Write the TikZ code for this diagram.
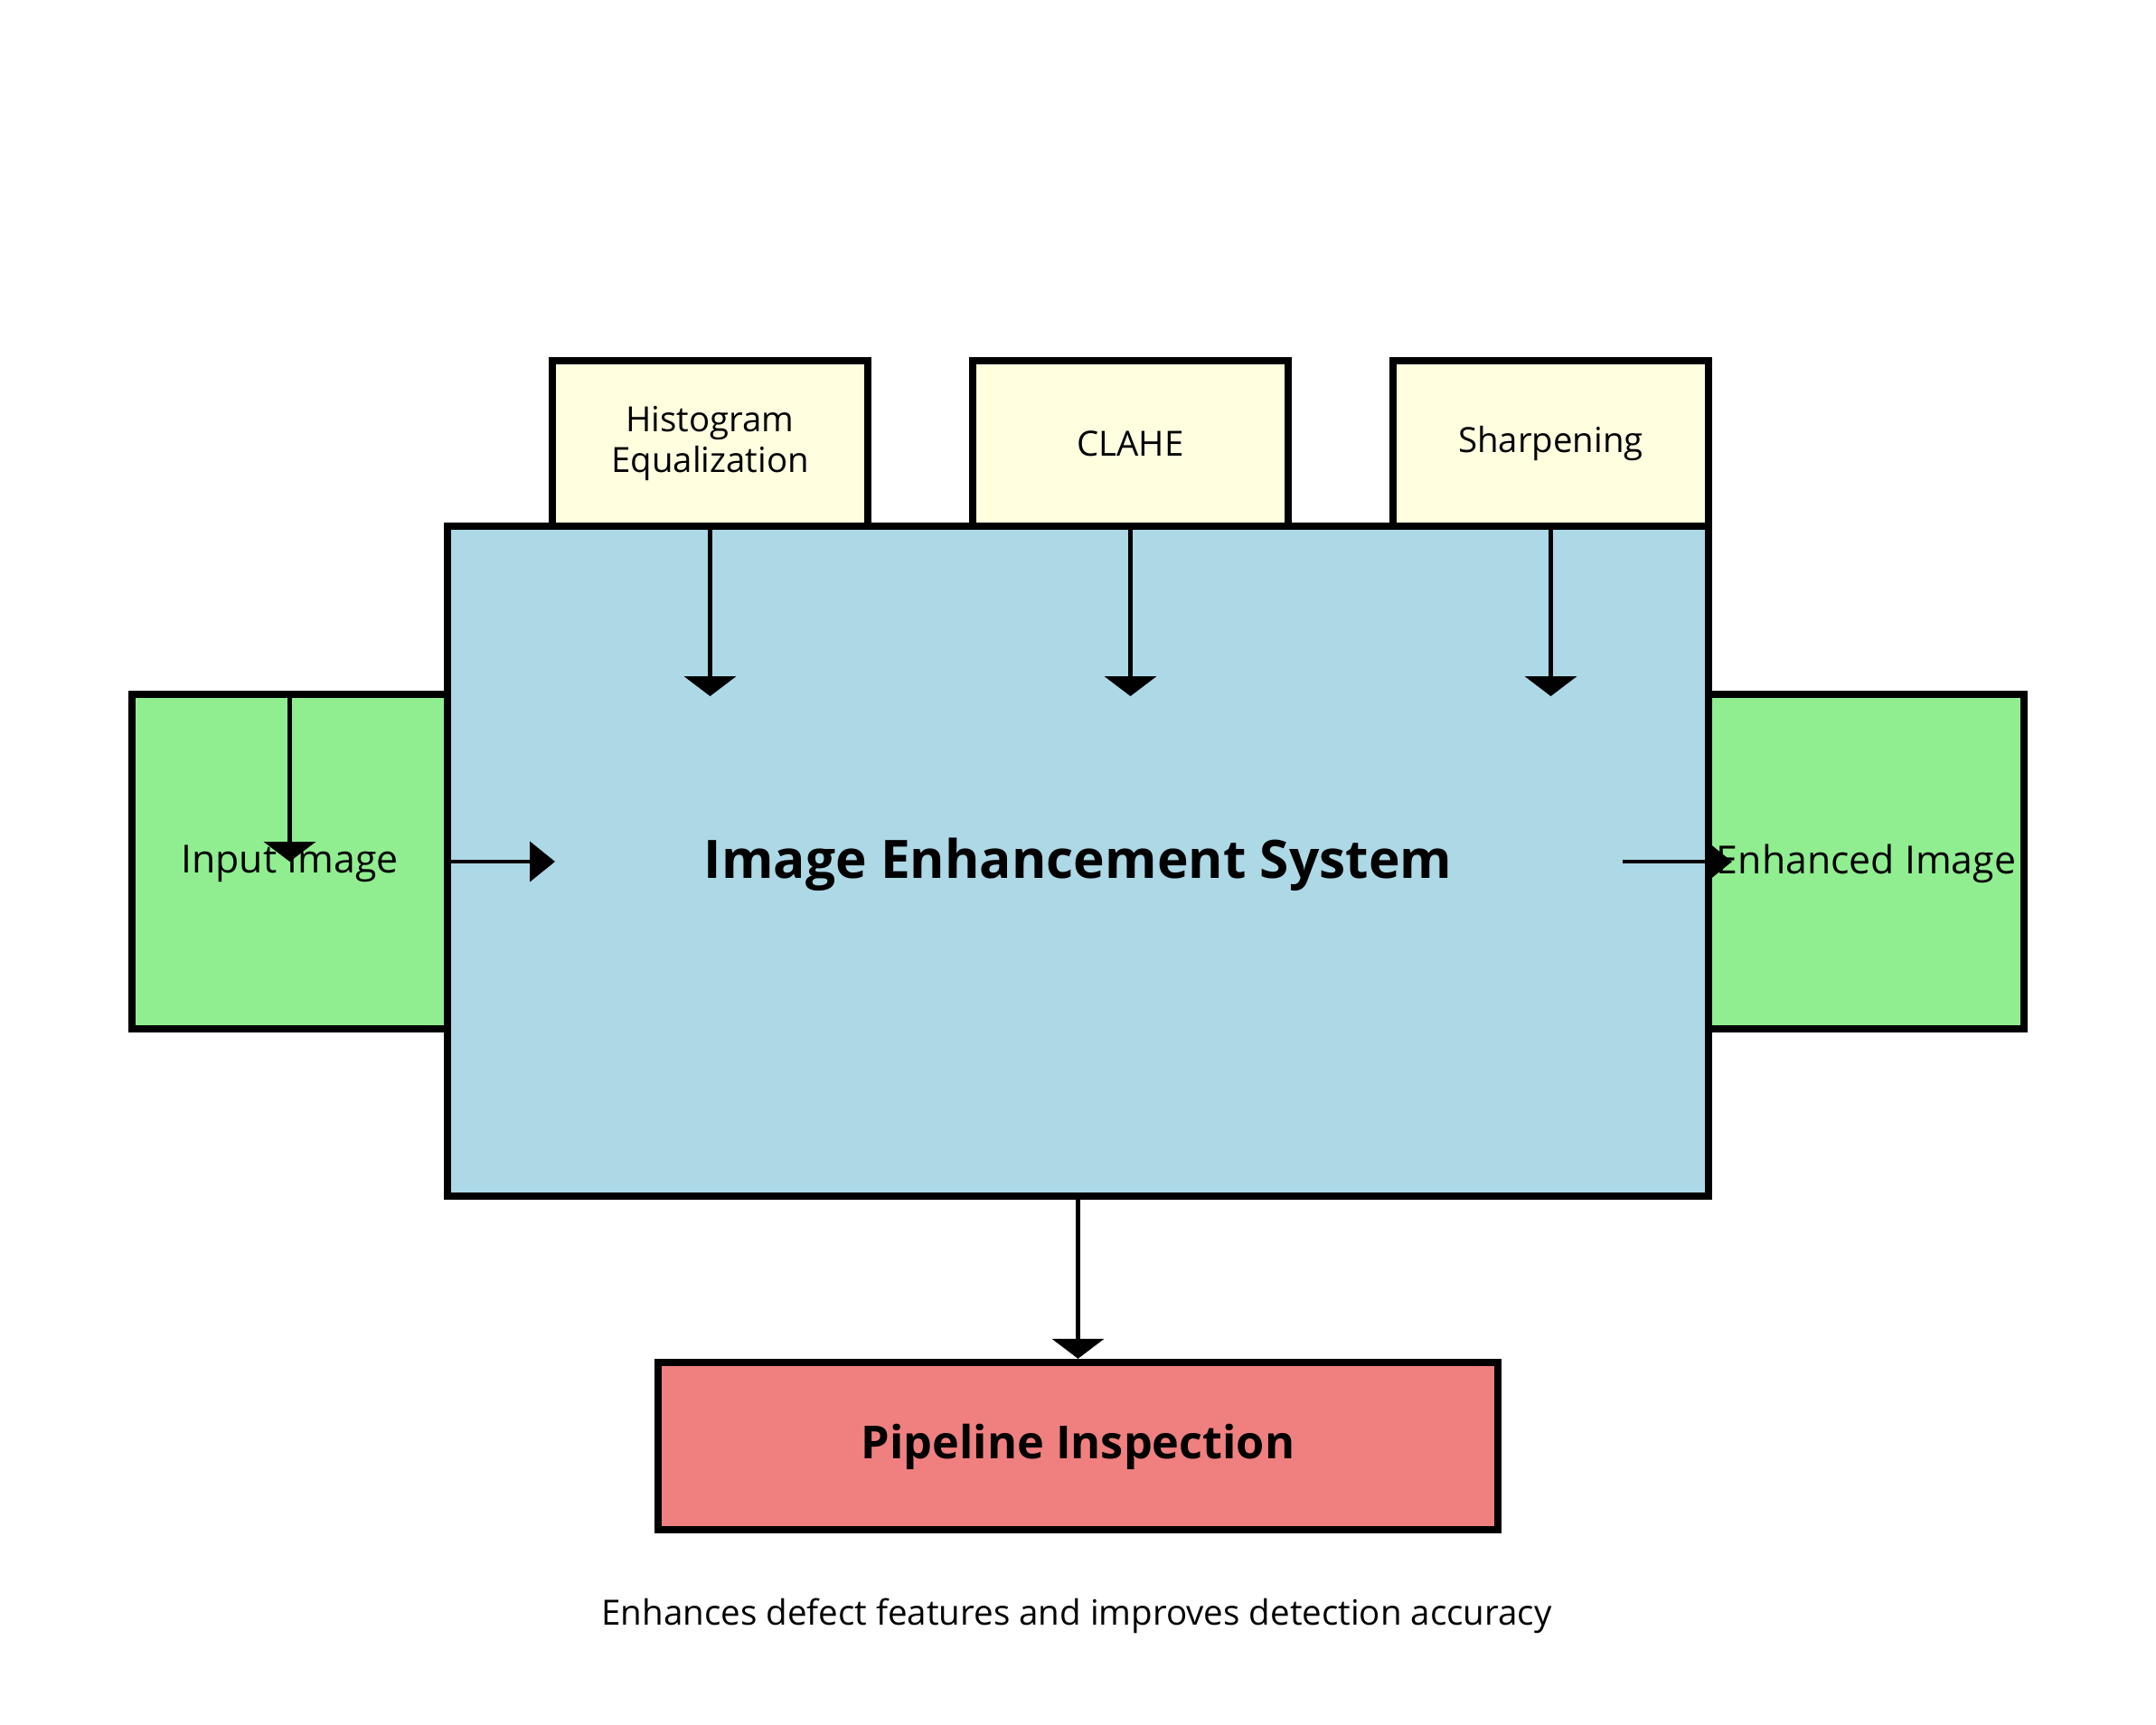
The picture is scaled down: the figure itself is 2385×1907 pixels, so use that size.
\documentclass[tikz,border=0pt]{standalone}
\usepackage{fontspec}
\setmainfont{Open Sans}
\usetikzlibrary{arrows.meta}
\definecolor{mainblue}{HTML}{ADD8E6}
\definecolor{boxgreen}{HTML}{90EE90}
\definecolor{boxyellow}{HTML}{FFFFE0}
\definecolor{boxred}{HTML}{F08080}
\begin{document}
\begin{tikzpicture}[x=0.5pt,y=-0.5pt,
  box/.style={draw=black, line width=4.2pt, inner sep=0pt, align=center},
  sidebox/.style={box, fill=boxgreen, minimum width=174.5pt, minimum height=185pt, font=\fontsize{21.4}{25}\selectfont, text depth=2.4pt},
  techbox/.style={box, fill=boxyellow, minimum width=174.5pt, minimum height=91.5pt, font=\fontsize{19.2}{22.5}\selectfont},
  conn/.style={line width=2.3pt},
  varr/.style={conn, -{Triangle[length=11pt,width=28.5pt]}},
  harr/.style={conn, -{Triangle[length=14pt,width=22pt]}}
]
\useasboundingbox (0,0) rectangle (2385,1907);
\node[sidebox] (input) at (320.5,953) {Input Image};
\node[sidebox] (enhanced) at (2064.5,953) {Enhanced Image};
\node[techbox] (hist) at (785.5,490.5) {Histogram\\Equalization};
\node[techbox] (clahe) at (1250.5,490.5) {CLAHE};
\node[techbox] (sharp) at (1715.5,490.5) {Sharpening};
\node[box, fill=mainblue, minimum width=697.5pt, minimum height=370.5pt, font=\bfseries\fontsize{29.3}{35}\selectfont, text depth=2.8pt] (main) at (1192.5,952.5) {Image Enhancement System};
\node[box, fill=boxred, minimum width=464.5pt, minimum height=92.5pt, font=\bfseries\fontsize{25.2}{30}\selectfont, text depth=5pt] (pipe) at (1192.5,1599.5) {Pipeline Inspection};
\node[anchor=base, inner sep=0pt, font=\fontsize{19.25}{24}\selectfont] (caption) at (1191,1797) {Enhances defect features and improves detection accuracy};
\coordinate (inTip) at (614,953);
\coordinate (histTip) at (785.5,770);
\coordinate (claheTip) at (1250.5,770);
\coordinate (sharpTip) at (1715.5,770);
\coordinate (outStart) at (1795,953);
\coordinate (outTip) at (1916,953);
\draw[varr] (input.north) -- (input.center);
\draw[harr] (input.east) -- (inTip);
\draw[varr] (hist.south) -- (histTip);
\draw[varr] (clahe.south) -- (claheTip);
\draw[varr] (sharp.south) -- (sharpTip);
\draw[harr] (outStart) -- (outTip);
\draw[varr] (main.south) -- (pipe.north);
\end{tikzpicture}
\end{document}
